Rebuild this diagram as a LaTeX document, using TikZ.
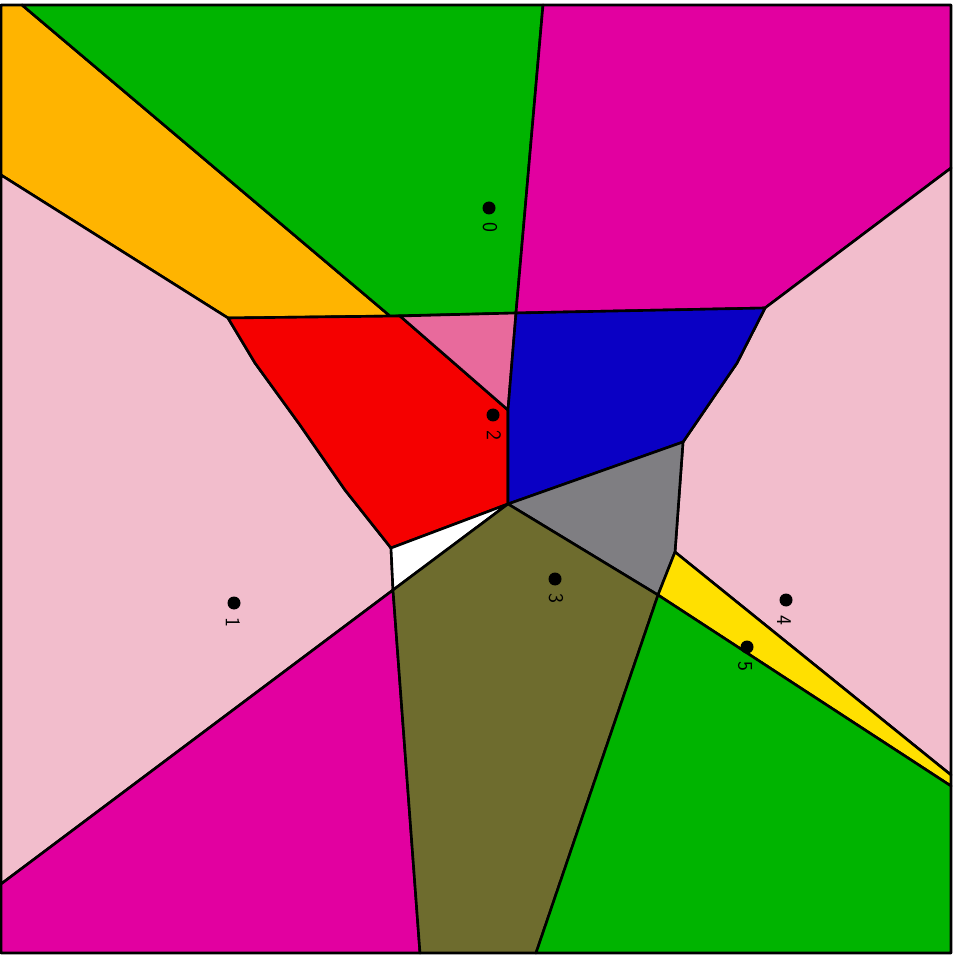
\documentclass[tikz,border=0pt]{standalone}
\usepackage{xcolor}
\usepackage{tikz}
\usetikzlibrary{positioning}
\definecolor{amber}{HTML}{FFB400}
\definecolor{leaf}{HTML}{00B400}
\definecolor{fuchsia}{HTML}{E200A0}
\definecolor{blush}{HTML}{F2BDCC}
\definecolor{scarlet}{HTML}{F50000}
\definecolor{rose}{HTML}{E86A9C}
\definecolor{royal}{HTML}{0A00C4}
\definecolor{stone}{HTML}{7F7E82}
\definecolor{olive}{HTML}{6E6C2E}
\definecolor{lemon}{HTML}{FFE000}
\tikzset{
  cell/.style={draw=black, line width=2.6pt, line join=round},
  site/.style={circle, fill=black, inner sep=0pt, minimum size=13pt},
  lbl/.style={font=\sffamily\fontsize{21}{21}\selectfont, rotate=-90, inner sep=0pt}
}

\begin{document}
\begin{tikzpicture}[x=1pt, y=-1pt]
 \useasboundingbox (0,0) rectangle (959,957);
 \fill[white] (0,0) rectangle (959,957);
 % cells, top row
 \filldraw[cell, fill=amber] (1,5) -- (22,5) -- (390,316) -- (228,318) -- (1,175) -- cycle;
 \filldraw[cell, fill=leaf] (22,5) -- (543,5) -- (516,313) -- (390,316) -- cycle;
 \filldraw[cell, fill=fuchsia] (543,5) -- (951,5) -- (951,168) -- (765,308) -- (516,313) -- cycle;
 % side cells
 \filldraw[cell, fill=blush] (1,175) -- (228,318) -- (255,363) -- (300,425) -- (345,490) -- (391,548) -- (393,590) -- (1,884) -- cycle;
 \filldraw[cell, fill=blush] (765,308) -- (951,168) -- (951,775) -- (675,552) -- (683,442) -- (737,363) -- cycle;
 % middle cells
 \filldraw[cell, fill=scarlet] (228,318) -- (400,316) -- (508,410) -- (508,504) -- (391,548) -- (345,490) -- (300,425) -- (255,363) -- cycle;
 \filldraw[cell, fill=rose] (400,316) -- (516,313) -- (508,410) -- cycle;
 \filldraw[cell, fill=royal] (516,313) -- (765,308) -- (737,363) -- (683,442) -- (508,504) -- (508,410) -- cycle;
 \filldraw[cell, fill=stone] (508,504) -- (683,442) -- (675,552) -- (658,595) -- cycle;
 \filldraw[cell, fill=white] (391,548) -- (508,504) -- (393,590) -- cycle;
 \filldraw[cell, fill=lemon] (675,552) -- (951,775) -- (951,786) -- (658,595) -- cycle;
 % bottom row
 \filldraw[cell, fill=fuchsia] (1,884) -- (393,590) -- (420,953) -- (1,953) -- cycle;
 \filldraw[cell, fill=olive] (393,590) -- (508,504) -- (658,595) -- (536,953) -- (420,953) -- cycle;
 \filldraw[cell, fill=leaf] (658,595) -- (951,786) -- (951,953) -- (536,953) -- cycle;
 \draw[line width=1.2pt] (1,5) rectangle (951,953);
 % sites
 \node[site] (s0) at (489,208) {};
 \node[site] (s1) at (234,603) {};
 \node[site] (s2) at (493,415) {};
 \node[site] (s3) at (555,579) {};
 \node[site] (s4) at (786,600) {};
 \node[site] (s5) at (747,647) {};
 \node[lbl] (n0) at (490,227) {0};
 \node[lbl] (n1) at (233,622) {1};
 \node[lbl] (n2) at (494,435) {2};
 \node[lbl] (n3) at (556,598) {3};
 \node[lbl] (n4) at (784,620) {4};
 \node[lbl] (n5) at (745,666) {5};
\end{tikzpicture}
\end{document}
